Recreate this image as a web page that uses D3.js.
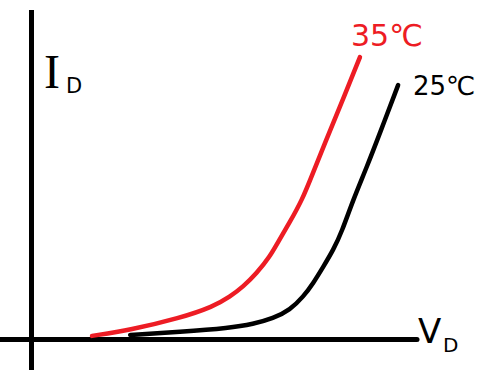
<!DOCTYPE html>
<html>
<head>
<meta charset="utf-8">
<script src="https://d3js.org/d3.v7.min.js"></script>
<style>
  body { margin: 0; background: #fff; }
  svg { display: block; }
</style>
</head>
<body>
<svg id="chart" width="497" height="371"></svg>
<script>
// diode forward curves, arbitrary units
var v35 = [1.57, 2.56, 3.85, 4.72, 5.15, 5.49, 5.84, 6.18, 6.40, 6.69, 7.02, 7.30, 7.61, 8.00, 8.52];
var i35 = [0.11, 0.29, 0.65, 1.00, 1.30, 1.60, 2.01, 2.51, 2.97, 3.54, 4.23, 5.05, 5.96, 7.06, 8.57];
var v25 = [2.56, 3.85, 5.15, 5.75, 6.27, 6.71, 7.05, 7.31, 7.57, 7.83, 8.05, 8.34, 8.70, 9.04, 9.51];
var i25 = [0.14, 0.23, 0.35, 0.47, 0.64, 0.90, 1.30, 1.71, 2.21, 2.72, 3.27, 4.23, 5.24, 6.27, 7.72];
var seriesLabels = ["35℃", "25℃"];
var axisLabels = ["I", "D", "V", "D"];

var svg = d3.select("#chart");

var x = d3.scaleLinear().domain([0, 10]).range([31.5, 417]);
var y = d3.scaleLinear().domain([0, 10]).range([339.5, 10]);

// axes drawn as plain thick strokes
svg.append("line")
    .attr("x1", x(0)).attr("x2", x(0))
    .attr("y1", y(10)).attr("y2", 370)
    .attr("stroke", "#000").attr("stroke-width", 5);
svg.append("line")
    .attr("x1", 0).attr("x2", x(10))
    .attr("y1", y(0)).attr("y2", y(0))
    .attr("stroke", "#000").attr("stroke-width", 5)
    .attr("stroke-linecap", "round");

var line = d3.line()
    .x(function(d) { return x(d[0]); })
    .y(function(d) { return y(d[1]); })
    .curve(d3.curveBasis);

var d25 = v25.map(function(v, k) { return [v, i25[k]]; });
var d35 = v35.map(function(v, k) { return [v, i35[k]]; });

svg.append("path")
    .datum(d25)
    .attr("d", line)
    .attr("fill", "none")
    .attr("stroke", "#000")
    .attr("stroke-width", 4.5)
    .attr("stroke-linecap", "round");

svg.append("path")
    .datum(d35)
    .attr("d", line)
    .attr("fill", "none")
    .attr("stroke", "#ed1c24")
    .attr("stroke-width", 4.5)
    .attr("stroke-linecap", "round");

// curve labels
svg.append("text")
    .attr("x", 351).attr("y", 46)
    .attr("font-family", "DejaVu Sans")
    .attr("font-size", 30)
    .attr("fill", "#ed1c24")
    .text(seriesLabels[0]);
svg.append("text")
    .attr("x", 413).attr("y", 95)
    .attr("font-family", "DejaVu Sans")
    .attr("font-size", 26)
    .attr("fill", "#000")
    .text(seriesLabels[1]);

// axis labels
var yl = svg.append("text")
    .attr("x", 44).attr("y", 88)
    .attr("font-family", "Liberation Serif")
    .attr("font-size", 48)
    .attr("fill", "#000");
yl.append("tspan").text(axisLabels[0]);
yl.append("tspan").attr("dx", 6).attr("dy", 5).attr("font-family", "DejaVu Sans").attr("font-size", 21).text(axisLabels[1]);

svg.append("text")
    .attr("x", 418).attr("y", 343)
    .attr("font-family", "DejaVu Sans")
    .attr("font-size", 34)
    .attr("fill", "#000")
    .text(axisLabels[2]);
svg.append("text")
    .attr("x", 443).attr("y", 352)
    .attr("font-family", "DejaVu Sans")
    .attr("font-size", 20)
    .attr("fill", "#000")
    .text(axisLabels[3]);
</script>
</body>
</html>
